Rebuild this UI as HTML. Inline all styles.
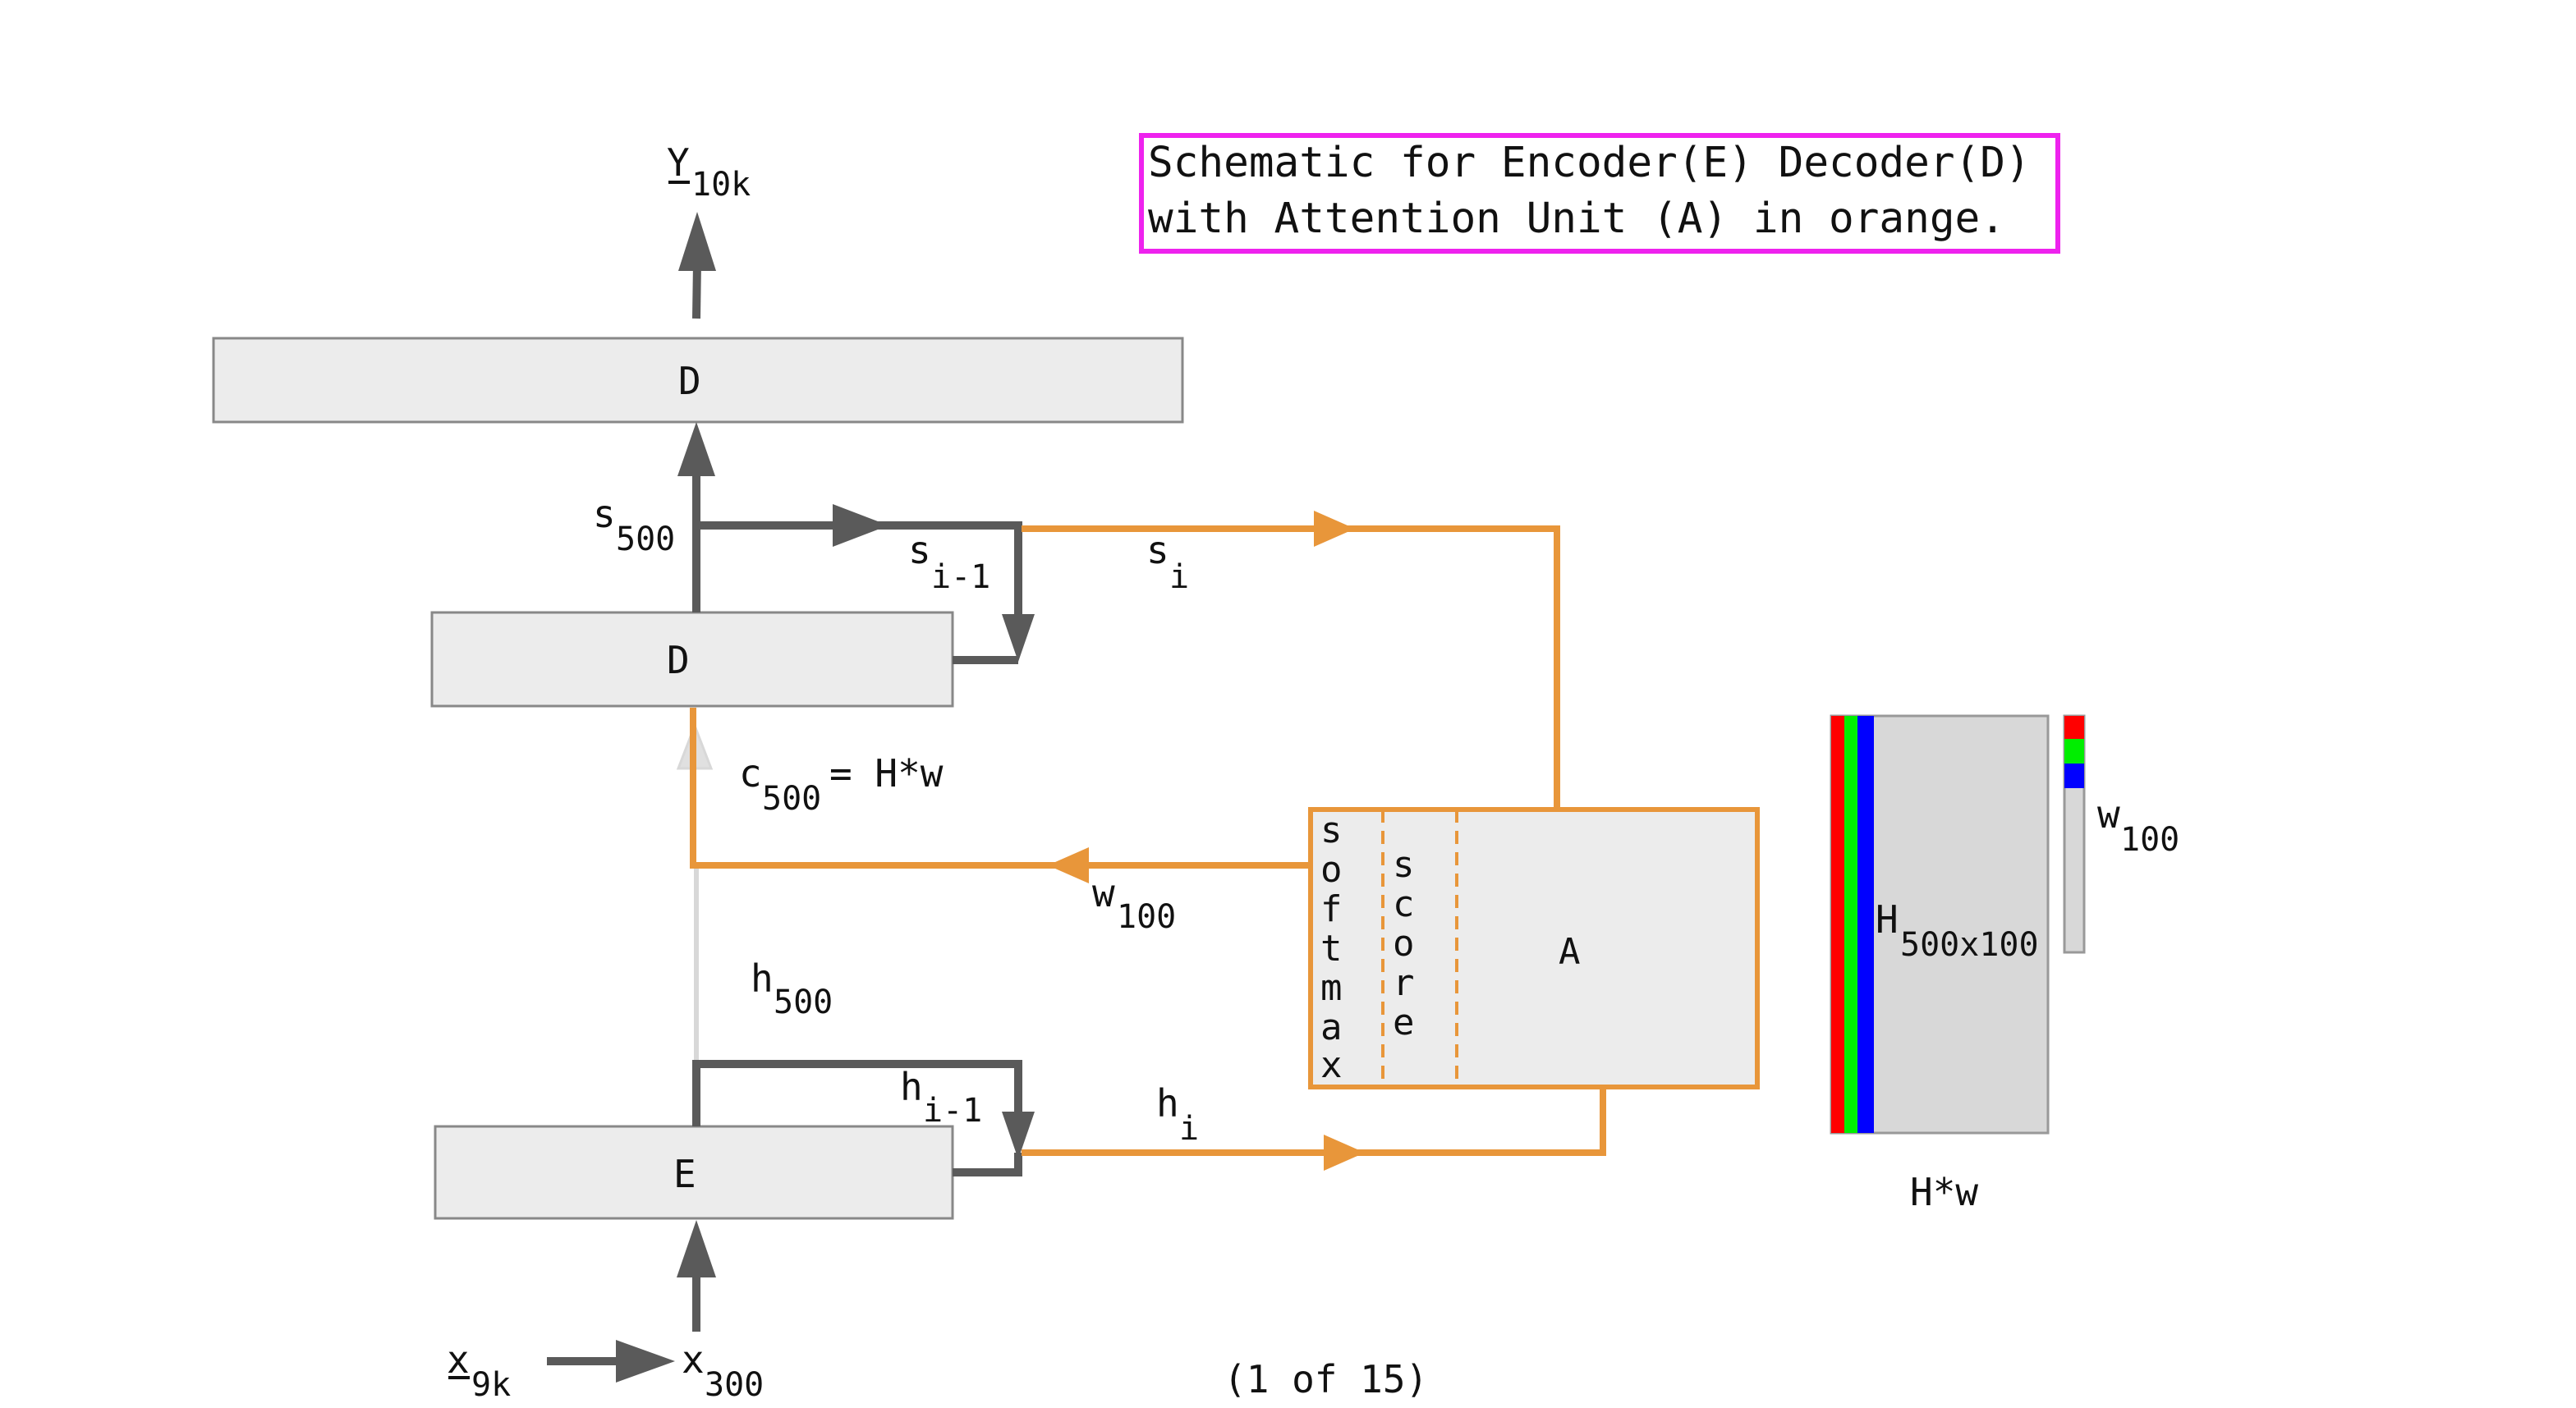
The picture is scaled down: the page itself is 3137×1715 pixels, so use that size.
<!DOCTYPE html>
<html><head><meta charset="utf-8"><style>
html,body{margin:0;padding:0;background:#fff;}
svg{display:block;}
text{font-family:"DejaVu Sans Mono","Liberation Mono",monospace;fill:#111;}
</style></head><body>
<svg width="3137" height="1715" viewBox="0 0 3137 1715" xmlns="http://www.w3.org/2000/svg">
<rect width="3137" height="1715" fill="#fff"/>
<!-- title -->
<rect x="1390" y="165" width="1116" height="141" fill="#fff" stroke="#ee22ee" stroke-width="6"/>
<text x="1398" y="215" font-size="51">Schematic for Encoder(E) Decoder(D)</text>
<text x="1398" y="283" font-size="51">with Attention Unit (A) in orange.</text>

<!-- Y10k -->
<text x="812" y="214" font-size="46">Y</text><line x1="814" y1="222" x2="840" y2="222" stroke="#111" stroke-width="4"/>
<text x="842" y="238" font-size="40">10k</text>
<line x1="848" y1="388" x2="849" y2="320" stroke="#5a5a5a" stroke-width="10"/>
<polygon points="849,258 826,330 872,330" fill="#5a5a5a"/>

<!-- top D -->
<rect x="260" y="412" width="1180" height="102" fill="#ececec" stroke="#888" stroke-width="3"/>
<text x="826" y="480" font-size="46">D</text>

<!-- middle D -->
<rect x="526" y="746" width="634" height="114" fill="#ececec" stroke="#888" stroke-width="3"/>
<text x="812" y="820" font-size="46">D</text>
<line x1="848" y1="746" x2="848" y2="570" stroke="#5a5a5a" stroke-width="10"/>
<polygon points="848,514 825,580 871,580" fill="#5a5a5a"/>
<text x="722" y="642" font-size="46">s</text><text x="750" y="670" font-size="40">500</text>

<!-- s loop -->
<polyline points="853,640 1240,640 1240,770" fill="none" stroke="#5a5a5a" stroke-width="10"/>
<polygon points="1082,640 1014,614 1014,666" fill="#5a5a5a"/>
<polygon points="1240,806 1220,748 1260,748" fill="#5a5a5a"/>
<polyline points="1160,804 1240,804" fill="none" stroke="#5a5a5a" stroke-width="10"/>
<text x="1106" y="686" font-size="46">s</text><text x="1134" y="716" font-size="40">i-1</text>
<text x="1396" y="686" font-size="46">s</text><text x="1424" y="716" font-size="40">i</text>

<!-- orange s_i -->
<polyline points="1244,644 1896,644 1896,984" fill="none" stroke="#e8963a" stroke-width="8"/>
<polygon points="1650,644 1600,622 1600,666" fill="#e8963a"/>

<!-- A box -->
<rect x="1596" y="986" width="544" height="338" fill="#ececec" stroke="#e8963a" stroke-width="6"/>
<line x1="1684" y1="986" x2="1684" y2="1324" stroke="#e8963a" stroke-width="4" stroke-dasharray="16,10"/>
<line x1="1774" y1="986" x2="1774" y2="1324" stroke="#e8963a" stroke-width="4" stroke-dasharray="16,10"/>
<g font-size="44">
<text x="1608" y="1026">s</text><text x="1608" y="1074">o</text><text x="1608" y="1122">f</text><text x="1608" y="1170">t</text><text x="1608" y="1218">m</text><text x="1608" y="1266">a</text><text x="1608" y="1312">x</text>
<text x="1696" y="1068">s</text><text x="1696" y="1116">c</text><text x="1696" y="1164">o</text><text x="1696" y="1212">r</text><text x="1696" y="1260">e</text>
<text x="1898" y="1174">A</text>
</g>

<!-- orange w back to D -->
<line x1="848" y1="1296" x2="848" y2="1054" stroke="#d8d8d8" stroke-width="6"/>
<polygon points="846,884 826,936 866,936" fill="#e0e0e0" stroke="#d8d8d8" stroke-width="3"/>
<polyline points="1596,1054 844,1054 844,862" fill="none" stroke="#e8963a" stroke-width="8"/>
<polygon points="1276,1054 1326,1032 1326,1076" fill="#e8963a"/>
<text x="900" y="958" font-size="46">c</text><text x="928" y="986" font-size="40">500</text><text x="1010" y="958" font-size="46">= H*w</text>
<text x="1330" y="1104" font-size="46">w</text><text x="1360" y="1130" font-size="40">100</text>
<text x="914" y="1208" font-size="46">h</text><text x="942" y="1234" font-size="40">500</text>

<!-- E -->
<rect x="530" y="1372" width="630" height="112" fill="#ececec" stroke="#888" stroke-width="3"/>
<text x="820" y="1446" font-size="46">E</text>
<polyline points="848,1372 848,1296 1240,1296 1240,1380" fill="none" stroke="#5a5a5a" stroke-width="10"/>
<polygon points="1240,1412 1220,1354 1260,1354" fill="#5a5a5a"/>
<polyline points="1160,1428 1240,1428 1240,1404" fill="none" stroke="#5a5a5a" stroke-width="10"/>
<text x="1096" y="1340" font-size="46">h</text><text x="1124" y="1366" font-size="40">i-1</text>
<text x="1408" y="1360" font-size="46">h</text><text x="1436" y="1388" font-size="40">i</text>
<polyline points="1244,1404 1952,1404 1952,1324" fill="none" stroke="#e8963a" stroke-width="8"/>
<polygon points="1662,1404 1612,1382 1612,1426" fill="#e8963a"/>

<!-- input -->
<line x1="848" y1="1622" x2="848" y2="1540" stroke="#5a5a5a" stroke-width="10"/>
<polygon points="848,1486 824,1556 872,1556" fill="#5a5a5a"/>
<text x="544" y="1672" font-size="46">x</text><line x1="546" y1="1678" x2="572" y2="1678" stroke="#111" stroke-width="4"/>
<text x="574" y="1700" font-size="40">9k</text>
<line x1="666" y1="1658" x2="760" y2="1658" stroke="#5a5a5a" stroke-width="10"/>
<polygon points="822,1658 750,1632 750,1684" fill="#5a5a5a"/>
<text x="830" y="1672" font-size="46">x</text><text x="858" y="1700" font-size="40">300</text>
<text x="1490" y="1696" font-size="46">(1 of 15)</text>

<!-- H matrix -->
<rect x="2230" y="872" width="264" height="508" fill="#d8d8d8" stroke="#999" stroke-width="3"/>
<rect x="2230" y="872" width="16" height="508" fill="#ff0000"/>
<rect x="2246" y="872" width="16" height="508" fill="#00ee00"/>
<rect x="2262" y="872" width="20" height="508" fill="#0000ff"/>
<text x="2284" y="1136" font-size="46">H</text><text x="2314" y="1164" font-size="40">500x100</text>
<rect x="2514" y="872" width="24" height="288" fill="#d8d8d8" stroke="#999" stroke-width="3"/>
<rect x="2514" y="872" width="24" height="28" fill="#ff0000"/>
<rect x="2514" y="900" width="24" height="30" fill="#00ee00"/>
<rect x="2514" y="930" width="24" height="30" fill="#0000ff"/>
<text x="2554" y="1008" font-size="46">w</text><text x="2582" y="1036" font-size="40">100</text>
<text x="2326" y="1468" font-size="46">H*w</text>
</svg>
</body></html>
